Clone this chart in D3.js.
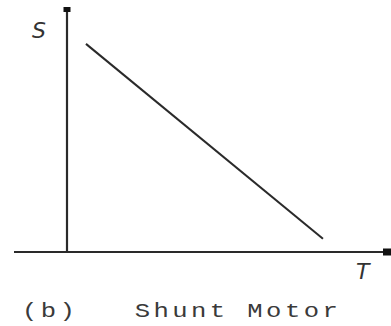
<!DOCTYPE html>
<html>
<head>
<meta charset="utf-8">
<script src="https://cdn.jsdelivr.net/npm/d3@7"></script>
<style>
  body { margin: 0; background: #fff; }
</style>
</head>
<body>
<div id="chart"></div>
<script>
// characteristic line, speed S against torque T (arbitrary units)
const torque = [0.6, 8.1];
const speed = [8.6, 0.55];
const axisLabels = ["S", "T"];
const caption = "(b)   Shunt Motor";

const width = 391, height = 326;

const svg = d3.select("#chart").append("svg")
    .attr("width", width)
    .attr("height", height);

const x = d3.scaleLinear().domain([0, 10]).range([67, 383]);
const y = d3.scaleLinear().domain([0, 10]).range([252, 10]);

const ink = "#2a2a2a";

// vertical axis
svg.append("line")
    .attr("x1", x(0)).attr("x2", x(0))
    .attr("y1", y(10)).attr("y2", y(0))
    .attr("stroke", ink).attr("stroke-width", 2.2);
svg.append("rect")
    .attr("x", x(0) - 3.5).attr("y", y(10) - 3)
    .attr("width", 7).attr("height", 5)
    .attr("fill", "#111");

// horizontal axis (runs a little left of the origin)
svg.append("line")
    .attr("x1", 14).attr("x2", x(10))
    .attr("y1", y(0)).attr("y2", y(0))
    .attr("stroke", ink).attr("stroke-width", 2.2);
svg.append("rect")
    .attr("x", x(10)).attr("y", y(0) - 3.5)
    .attr("width", 8).attr("height", 7)
    .attr("fill", "#111");

// the curve
const pts = torque.map((t, i) => [t, speed[i]]);
svg.append("path")
    .datum(pts)
    .attr("fill", "none")
    .attr("stroke", ink)
    .attr("stroke-width", 2)
    .attr("d", d3.line().x(d => x(d[0])).y(d => y(d[1])));

// axis labels
svg.append("text")
    .attr("x", 32).attr("y", 38)
    .attr("font-family", "DejaVu Sans")
    .attr("font-style", "italic")
    .attr("font-size", 22)
    .attr("fill", "#333")
    .text(axisLabels[0]);

svg.append("text")
    .attr("x", 356).attr("y", 279)
    .attr("font-family", "DejaVu Sans")
    .attr("font-style", "italic")
    .attr("font-size", 22)
    .attr("fill", "#333")
    .text(axisLabels[1]);

// caption, typewriter style, stretched wide
svg.append("g")
    .attr("transform", "translate(22,317) scale(1.22,1)")
  .append("text")
    .attr("font-family", "Liberation Mono")
    .attr("font-size", 21)
    .attr("fill", "#3a3a3a")
    .attr("letter-spacing", 2.8)
    .style("white-space", "pre")
    .text(caption);
</script>
</body>
</html>
